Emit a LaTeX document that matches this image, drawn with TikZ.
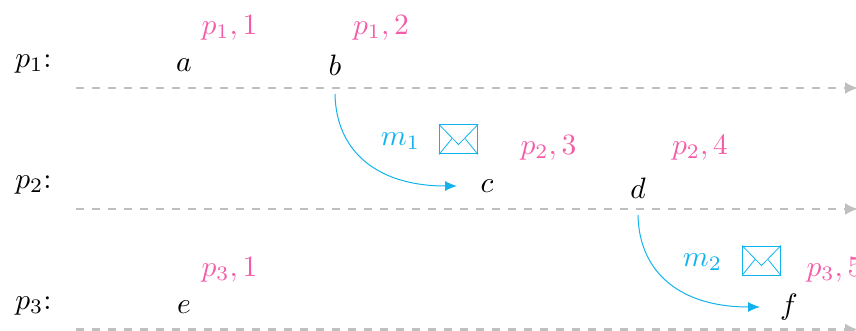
\documentclass[tikz,border=0pt]{standalone}
\definecolor{msgblue}{HTML}{12B2EC}
\definecolor{tspink}{HTML}{F45CA8}
\definecolor{axisgray}{HTML}{BFBFBF}
\usetikzlibrary{arrows.meta}
\tikzset{
  axisline/.style={axisgray,line width=2.2pt,dash pattern=on 8pt off 8pt,-{Latex[length=13pt,width=12pt]}},
  msgline/.style={msgblue,line width=1pt,-{Latex[length=12pt,width=10pt]}},
  txt/.style={inner sep=0pt,transform shape,scale=2.95},
  tslabel/.style={txt,text=tspink},
  msglabel/.style={txt,text=msgblue},
  envbox/.style={draw=msgblue,line width=1pt,minimum width=38pt,minimum height=29pt,inner sep=0pt}
}
\begin{document}
\begin{tikzpicture}[x=1pt,y=-1pt]
\useasboundingbox (0,0) rectangle (856,331);
\coordinate (s1) at (76,88); \coordinate (e1) at (858,88);
\coordinate (s2) at (76,209); \coordinate (e2) at (858,209);
\coordinate (s3) at (76,329.5); \coordinate (e3) at (858,329.5);
\draw[axisline] (s1) -- (e1);
\draw[axisline] (s2) -- (e2);
\draw[axisline] (s3) -- (e3);
\node[txt] (l1) at (33.5,64) {$p_1$:};
\node[txt] (l2) at (33.5,185) {$p_2$:};
\node[txt] (l3) at (33.5,306) {$p_3$:};
\node[txt] (a) at (184,65) {$a$};
\node[txt] (b) at (335,65) {$b$};
\node[txt] (c) at (487,186) {$c$};
\node[txt] (d) at (638,188) {$d$};
\node[txt] (e) at (184,307) {$e$};
\node[txt] (f) at (789,307) {$f$};
\node[tslabel] (t1) at (229.5,27.5) {$p_1,1$};
\node[tslabel] (t2) at (381,27.5) {$p_1,2$};
\node[tslabel] (t3) at (548.5,147.5) {$p_2,3$};
\node[tslabel] (t4) at (700,147.5) {$p_2,4$};
\node[tslabel] (t5) at (229.5,269.5) {$p_3,1$};
\node[tslabel] (t6) at (834.5,269.5) {$p_3,5$};
\node[msglabel] (m1) at (400.5,141) {$m_1$};
\node[msglabel] (m2) at (702.5,262) {$m_2$};
\node[envbox] (env1) at (458.5,139.5) {};
\node[envbox] (env2) at (761.5,260.5) {};
\foreach \n in {env1,env2}{
  \draw[msgblue,line width=0.8pt] (\n.north west) -- ([yshift=-20pt]\n.north) -- (\n.north east);
  \draw[msgblue,line width=0.8pt] (\n.south west) -- ([xshift=-6.5pt,yshift=-14pt]\n.north);
  \draw[msgblue,line width=0.8pt] (\n.south east) -- ([xshift=6.5pt,yshift=-14pt]\n.north);
}
\coordinate (bs) at (335,94); \coordinate (ce) at (457,186);
\coordinate (ds) at (638,215); \coordinate (fe) at (760,307);
\draw[msgline] (bs) .. controls (336,152) and (378,186) .. (ce);
\draw[msgline] (ds) .. controls (639,273) and (681,307) .. (fe);
\end{tikzpicture}
\end{document}
